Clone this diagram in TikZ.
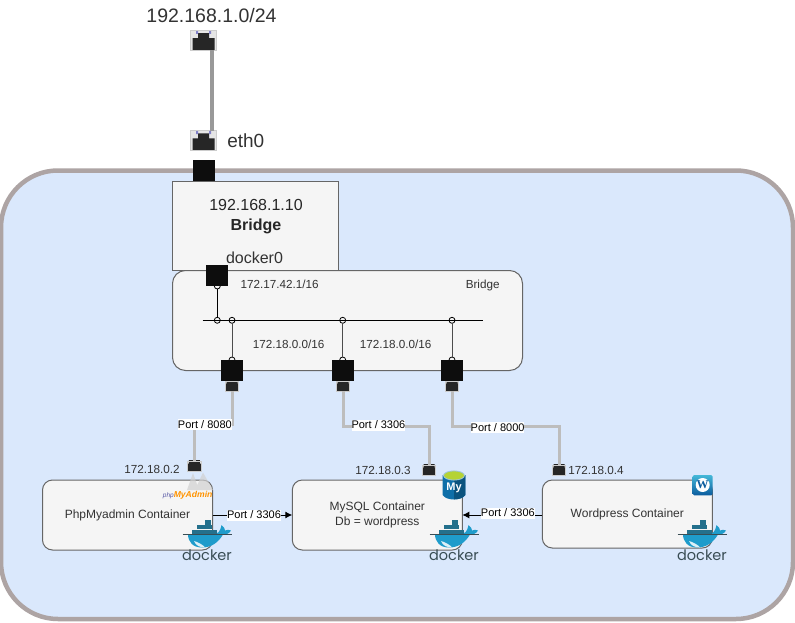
\documentclass[tikz,border=0pt]{standalone}
\usepackage{fontspec}
\setmainfont{Liberation Sans}
\newfontfamily\dockerfont{Poppins}
\newfontfamily\wpfont{Liberation Serif}
\usepackage{tikz}
\usetikzlibrary{calc,arrows.meta}
\definecolor{hostblue}{HTML}{DAE8FC}
\definecolor{hostedge}{HTML}{ADA4A4}
\definecolor{boxgray}{HTML}{F5F5F5}
\definecolor{boxedge}{HTML}{666666}
\definecolor{labelgray}{HTML}{333333}
\definecolor{linkdark}{HTML}{999999}
\definecolor{linklight}{HTML}{BDBDBD}
\definecolor{whaleblue}{HTML}{1F9CCB}
\definecolor{crateblue}{HTML}{24708C}
\definecolor{dockerink}{HTML}{394D54}
\definecolor{mysqlblue}{HTML}{0F6FA8}
\definecolor{mysqllime}{HTML}{B5D334}
\definecolor{wptop}{HTML}{45B8D8}
\definecolor{wpbottom}{HTML}{0B5C9E}
\tikzset{
    ethport/.style={minimum width=#1*25.7pt, minimum height=#1*20pt, inner sep=0pt, outer sep=0pt,
        fill=black!10, draw=black!20, line width=.5pt,
        path picture={
            \begin{scope}[shift={(path picture bounding box.center)}, scale=#1]
                \fill [black!85] (-5.5,-7.3) -- (5.5,-7.3) -- (5.5,-2.3) -- (11,-2.3) -- (11,10)
                                 -- (-11,10) -- (-11,-2.3) -- (-5.5,-2.3) -- cycle;
                \fill [blue!40!gray!70] (-7.5,-9.5) rectangle (-5.5,-6.5)
                                        (5.5,-9.5) rectangle (7.5,-6.5);
            \end{scope}
        }},
    blacksq/.style={fill=black!95, minimum width=22pt, minimum height=21pt, inner sep=0pt, outer sep=0pt},
    ring/.style={circle, draw=black, fill=none, line width=.8pt, minimum size=6pt, inner sep=0pt, outer sep=0pt},
    container/.style={draw=boxedge, fill=boxgray, rounded corners=10pt, line width=1pt, minimum width=170pt,
        inner sep=0pt, outer sep=0pt, text=labelgray, font=\fontsize{12}{15}\selectfont, align=center},
    small/.style={font=\fontsize{11.7}{14}\selectfont, text=labelgray, inner sep=0pt},
    portlabel/.style={font=\fontsize{11}{12}\selectfont, text=black, fill=white, inner sep=0pt, minimum height=11pt, text height=8.5pt, text depth=2pt},
    link/.style={line width=3pt, draw=linklight},
    flow/.style={draw=black, line width=1pt, -{Latex[length=7pt,width=7pt]}},
    dockerlogo/.pic={
        \fill [whaleblue] (-19,14) -- (6,14) .. controls (11,14) and (13,12) .. (14.5,5)
            .. controls (17,7) and (18,9) .. (18,10.5) .. controls (20,9.5) and (22,9.5) .. (24,10.5)
            .. controls (22,14) and (19,14.5) .. (16,14.5) .. controls (11,23) and (4,27.5) .. (-5,27.5)
            .. controls (-14,27.5) and (-19,22) .. (-19,14) -- cycle;
        \fill [white!85!whaleblue] (-13,21) .. controls (-9,22) and (-4,25) .. (-2,27.3)
            .. controls (-7,27.5) and (-11,26) .. (-13,21) -- cycle;
        \draw [dockerink, line width=.4pt] (-24.5,14.3) -- (24.5,14.3);
        \foreach \i in {0,...,4} {\fill [crateblue] (-15+\i*5,9.5) rectangle ++(4.7,4.4);}
        \foreach \i in {0,1,2} {\fill [crateblue] (-10+\i*5,5) rectangle ++(4.7,4.3);}
        \fill [crateblue] (-2,0) rectangle ++(6,4.8);
        \node [text=dockerink, inner sep=0pt, font=\fontsize{14.5}{16}\dockerfont] (word) at (0,35.5) {docker};
    },
}
\begin{document}
\begin{tikzpicture}[x=1pt,y=-1pt]
            \useasboundingbox (0,0) rectangle (795,623);
            \fill [white] (0,0) rectangle (795,623);
            \draw [hostedge, fill=hostblue, line width=4.5pt, rounded corners=57pt] (1,170.5) rectangle (793,619);

            \node [font=\fontsize{19.5}{22}\selectfont, text=labelgray, inner sep=0pt] (lanlabel) at (211.5,16) {192.168.1.0/24};
            \node [font=\fontsize{19}{20}\selectfont, text=labelgray, inner sep=0pt] (ethlabel) at (245.8,141) {eth0};
            \node [ethport=1] (lanport) at (203.5,40.5) {};
            \node [ethport=1] (ethport) at (203.5,140.7) {};
            \draw [line width=3.5pt, linkdark] ([xshift=8.5pt]lanport.south) -- ([xshift=8.5pt]ethport.north);
            \node [blacksq] (ethsq) at (203.8,170.3) {};

            \node [draw=boxedge, fill=boxgray, line width=1pt, minimum width=166pt, minimum height=89pt, inner sep=0pt] (hostbox) at (255,225.5) {};
            \node [font=\fontsize{16}{20}\selectfont, align=center, text=black!85, inner sep=0pt] (hosttext) at (256,216.5) {192.168.1.10\\ \textbf{Bridge}};
            \draw [boxedge, fill=boxgray, line width=1pt, rounded corners=13pt] (172.5,270.5) rectangle (522.5,370.5);
            \node [font=\fontsize{16}{18}\selectfont, text=labelgray, inner sep=0pt] (dockerzero) at (254.5,258) {docker0};

            \node [small] (subnetlabel) at (279.7,284.7) {172.17.42.1/16};
            \node [small] (bridgelabel) at (482.7,285) {Bridge};
            \node [small] (netlabela) at (288.7,344.7) {172.18.0.0/16};
            \node [small] (netlabelb) at (395.7,344.7) {172.18.0.0/16};

            \draw [black, line width=1pt] (202.7,320.3) -- (482.7,320.3);
            \node [ring] (bus) at (217.3,320.3) {};
            \node [ring] (busa) at (232,320.3) {};
            \node [ring] (busb) at (342.7,320.3) {};
            \node [ring] (busc) at (452,320.3) {};
            \node [ring] (top) at (217.3,286) {};
            \node [ring] (lowa) at (232,360) {};
            \node [ring] (lowb) at (342.7,360) {};
            \node [ring] (lowc) at (452,360) {};
            \draw [black, line width=.8pt] (top) -- (bus);
            \draw [black!70, line width=1pt] (busa) -- (lowa);
            \draw [black!70, line width=1pt] (busb) -- (lowb);
            \draw [black!70, line width=1pt] (busc) -- (lowc);

            \node [blacksq] (topsq) at (217.3,275.4) {};
            \node [blacksq] (sqa) at (232,370.4) {};
            \node [blacksq] (sqb) at (343,370.4) {};
            \node [blacksq] (sqc) at (452,370.4) {};
            \node [ethport=.49] (porta) at (232,386) {};
            \node [ethport=.49] (portb) at (343,386) {};
            \node [ethport=.49] (portc) at (452,386) {};
            \node [ethport=.52] (phpport) at (194.3,466) {};
            \node [ethport=.52] (sqlport) at (429,470) {};
            \node [ethport=.52] (wpport) at (559,470) {};

            \draw [link] (porta.south) -- ++(0,34) -| node[portlabel, pos=.36] (labela) {Port / 8080} (phpport.north);
            \draw [link] (portb.south) -- ++(0,36) -| node[portlabel, pos=.206, yshift=1.5pt] (labelb) {Port / 3306} (sqlport.north);
            \draw [link] (portc.south) -- ++(0,36) -| node[portlabel, pos=.213, yshift=-1pt] (labelc) {Port / 8000} (wpport.north);

            \node [small] (phpaddr) at (152,469) {172.18.0.2};
            \node [small] (sqladdr) at (383,470) {172.18.0.3};
            \node [small] (wpaddr) at (596,470) {172.18.0.4};

            \node [container, minimum height=70pt] (phpbox) at (127.5,515) {PhpMyadmin Container};
            \node [container, minimum height=70pt] (sqlbox) at (377.3,515) {MySQL Container\\Db = wordpress};
            \node [container, minimum height=68pt] (wpbox) at (627.3,514) {Wordpress Container};

            \draw [flow] (phpbox.east) -- node[portlabel, pos=.52] (labeld) {Port / 3306} (sqlbox.west);
            \draw [flow] (wpbox.west |- sqlbox.east) -- node[portlabel, pos=.43, yshift=1.5pt] (labele) {Port / 3306} (sqlbox.east);

            \fill [black!18, opacity=.7] (193,473) -- (187,490) -- (199,490) -- cycle
                                         (203,472.5) -- (195,490) -- (213,490) -- cycle;
            \node [inner sep=0pt, font=\fontsize{6.5}{8}\itshape] (phplogo) at (187.7,495)
                {\textcolor{blue!30!gray}{php}\textcolor{orange!85!yellow}{\fontsize{8.6}{9}\selectfont\bfseries MyAdmin}};

            \fill [mysqlblue] (442.7,475) -- (442.7,495) .. controls (446,501) and (462,501) .. (465.3,495) -- (465.3,475) -- cycle;
            \fill [mysqlblue!75!black] (454,475) -- (454,499.3) .. controls (459,499.3) and (463,498) .. (465.3,495) -- (465.3,475) -- cycle;
            \draw [mysqlblue!40!white, fill=mysqllime, line width=.8pt] (454,475.5) ellipse (10.5 and 4.6);
            \node [text=white, inner sep=0pt, font=\fontsize{11}{12}\bfseries] (mylogo) at (454,487.5) {My};

            \shade [top color=wptop, bottom color=wpbottom, rounded corners=1.5pt] (692.7,475) rectangle (712.7,495.3);
            \fill [white] (702.7,485) circle (7);
            \node [text=wpbottom, inner sep=0pt, font=\fontsize{12}{12}\wpfont\bfseries] (wplogo) at (702.7,485) {W};

            \pic (dockera) at (207,520) {dockerlogo};
            \pic (dockerb) at (454,520) {dockerlogo};
            \pic (dockerc) at (702,520) {dockerlogo};
        \end{tikzpicture}
\end{document}
